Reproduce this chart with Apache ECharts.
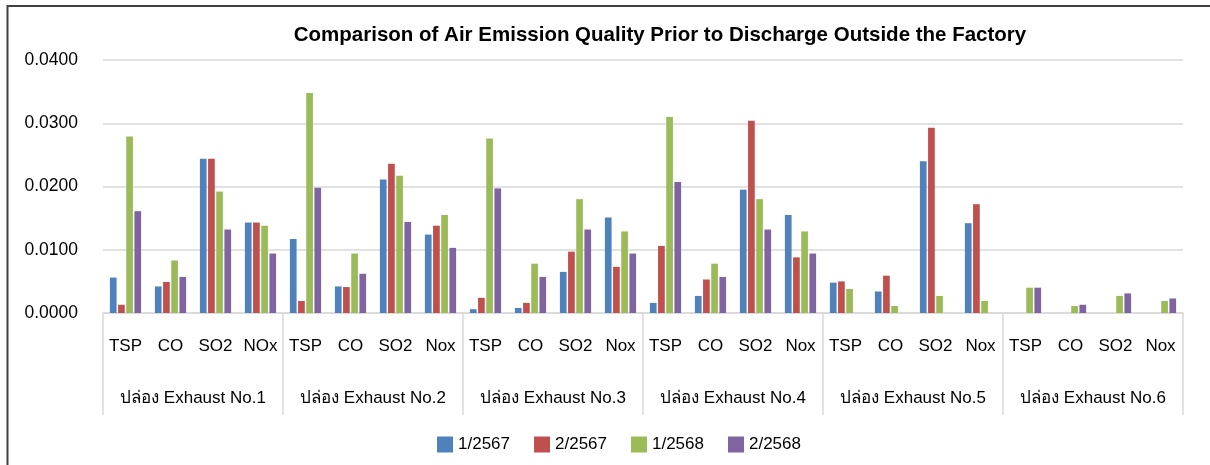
<!DOCTYPE html>
<html>
<head>
<meta charset="utf-8">
<script src="https://cdn.jsdelivr.net/npm/echarts@6/dist/echarts.min.js"></script>
<style>
html,body{margin:0;padding:0;background:#fff;}
#chart{width:1210px;height:465px;}
</style>
</head>
<body>
<div id="chart"></div>
<script>
var groups = ['ปล่อง Exhaust No.1','ปล่อง Exhaust No.2','ปล่อง Exhaust No.3','ปล่อง Exhaust No.4','ปล่อง Exhaust No.5','ปล่อง Exhaust No.6'];
var subLabels = ['TSP','CO','SO2','NOx','TSP','CO','SO2','Nox','TSP','CO','SO2','Nox','TSP','CO','SO2','Nox','TSP','CO','SO2','Nox','TSP','CO','SO2','Nox'];
var seriesNames = ['1/2567','2/2567','1/2568','2/2568'];
var s1_2567 = [0.0056,0.0042,0.0244,0.0143, 0.0117,0.0042,0.0211,0.0124, 0.0006,0.0008,0.0065,0.0151, 0.0016,0.0027,0.0195,0.0155, 0.0048,0.0034,0.0240,0.0142, null,null,null,null];
var s2_2567 = [0.0013,0.0049,0.0244,0.0143, 0.0019,0.0041,0.0236,0.0138, 0.0024,0.0016,0.0097,0.0073, 0.0106,0.0053,0.0304,0.0088, 0.0050,0.0059,0.0293,0.0172, null,null,null,null];
var s1_2568 = [0.0279,0.0083,0.0192,0.0138, 0.0348,0.0094,0.0217,0.0155, 0.0276,0.0078,0.0180,0.0129, 0.0310,0.0078,0.0180,0.0129, 0.0038,0.0011,0.0027,0.0019, 0.0040,0.0011,0.0027,0.0019];
var s2_2568 = [0.0161,0.0057,0.0132,0.0094, 0.0198,0.0062,0.0144,0.0103, 0.0197,0.0057,0.0132,0.0094, 0.0207,0.0057,0.0132,0.0094, null,null,null,null, 0.0040,0.0013,0.0031,0.0023];
var colors = ['#4f81bd','#c0504d','#9bbb59','#8064a2'];
var allData = [s1_2567, s2_2567, s1_2568, s2_2568];

var font = '"Liberation Sans", Arial, "Noto Sans", sans-serif';
var chart = echarts.init(document.getElementById('chart'), null, {renderer:'canvas'});
var series = seriesNames.map(function(n, i){
  return {
    name: n, type: 'bar', xAxisIndex: 0, yAxisIndex: 0,
    data: allData[i], barWidth: 6.7, barGap: '22%',
    itemStyle: {color: colors[i]}
  };
});
chart.setOption({
  animation: false,
  color: colors,
  graphic: [{
    type: 'rect', shape: {x: 7.5, y: 6, width: 1300, height: 600},
    style: {fill: 'none', stroke: '#404040', lineWidth: 2}, silent: true
  }],
  title: {
    text: 'Comparison of Air Emission Quality Prior to Discharge Outside the Factory',
    left: 655, textAlign: 'center', top: 20,
    textStyle: {fontFamily: font, fontSize: 20.5, fontWeight: 'bold', color: '#000'}
  },
  legend: {
    data: seriesNames, left: 432, top: 431,
    itemWidth: 16, itemHeight: 16, itemGap: 24, icon: 'rect',
    textStyle: {fontFamily: font, fontSize: 17, color: '#000'}
  },
  grid: {left: 103, right: 27, top: 60, bottom: 152, containLabel: false},
  xAxis: [{
    type: 'category', data: subLabels, position: 'bottom',
    axisLine: {show: true, lineStyle: {color: '#d9d9d9', width: 1.5}},
    axisTick: {show: false},
    axisLabel: {interval: 0, margin: 25, fontFamily: font, fontSize: 17, color: '#000'}
  }, {
    type: 'category', data: groups, position: 'bottom', gridIndex: 0,
    axisLine: {show: false},
    axisTick: {show: true, length: 102, lineStyle: {color: '#d9d9d9', width: 1.5}},
    axisLabel: {interval: 0, margin: 77, fontFamily: font, fontSize: 17, color: '#000'}
  }],
  yAxis: {
    type: 'value', min: 0, max: 0.04, interval: 0.01,
    axisLine: {show: false}, axisTick: {show: false},
    splitLine: {lineStyle: {color: '#d9d9d9', width: 1.5}},
    axisLabel: {margin: 25, fontFamily: font, fontSize: 17.5, color: '#000',
      formatter: function(v){ return v.toFixed(4); }}
  },
  series: series
});
</script>
</body>
</html>
